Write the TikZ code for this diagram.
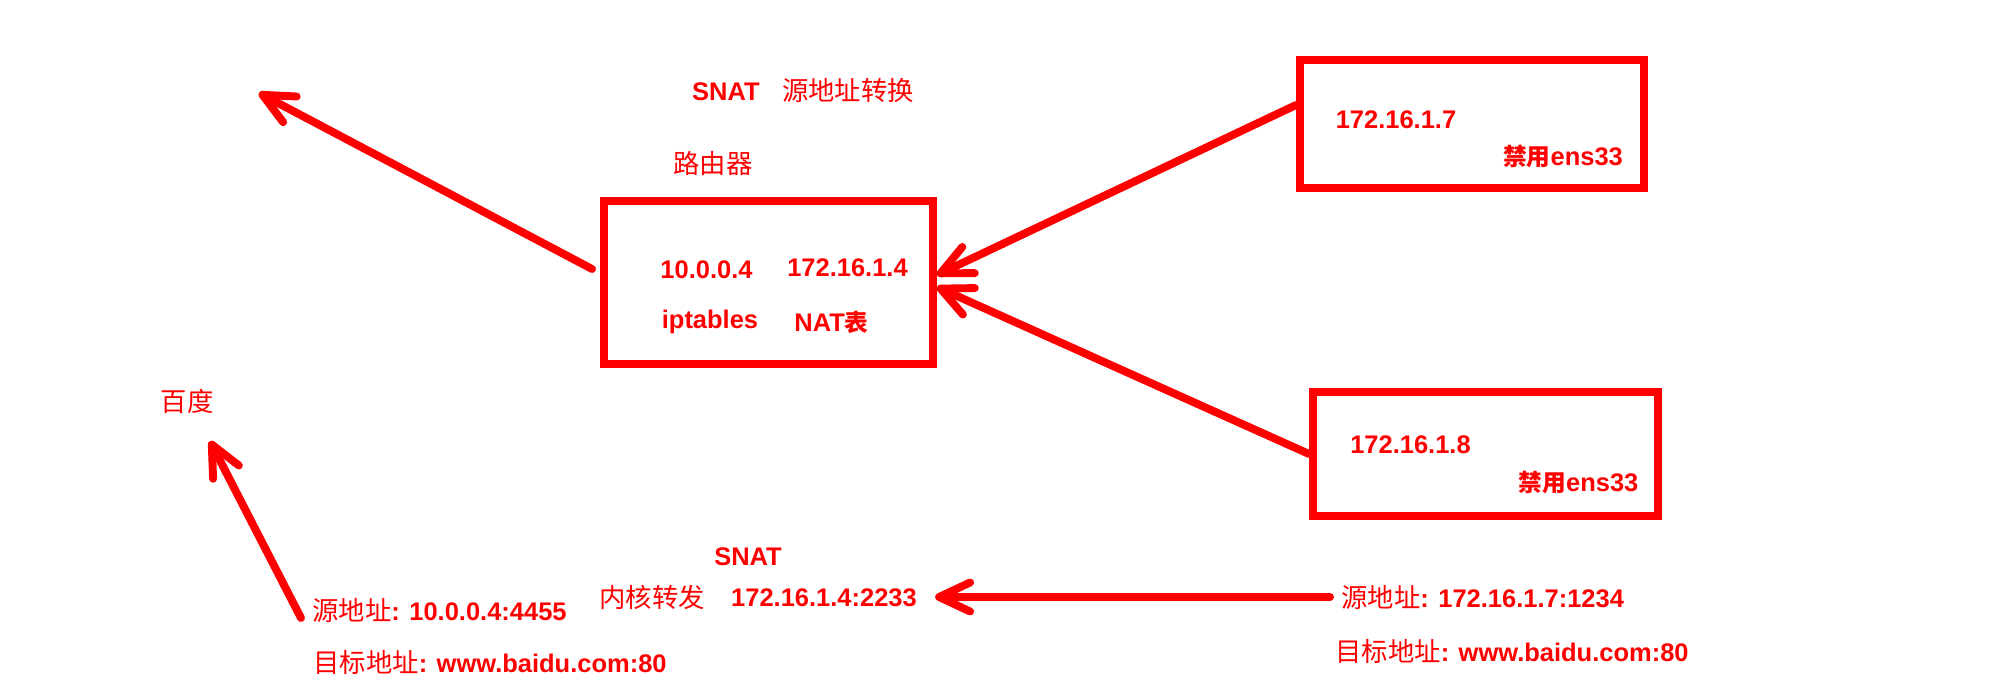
\documentclass[tikz,border=0pt]{standalone}
\usepackage{fontspec}
\setmainfont{Liberation Sans}
\newfontfamily\cjk{Noto Sans CJK SC}
\usetikzlibrary{arrows.meta,calc}

\tikzset{
  box/.style={draw=red,line width=4.5pt,inner sep=0pt},
  en/.style={text=red,inner sep=0pt,font=\bfseries\fontsize{14.5}{17}\selectfont},
  zh/.style={text=red,inner sep=0pt,font=\cjk\fontsize{15}{18}\selectfont},
  flow/.style={draw=red,line width=4.5pt,line cap=round,
    -{Straight Barb[length=0.62cm,width=0.58cm,round]}},
}
\newcommand{\zhm}[1]{{\cjk\mdseries\fontsize{15}{18}\selectfont #1}}
\newcommand{\zhb}[1]{{\cjk\bfseries\fontsize{13.5}{16}\selectfont #1}}

\begin{document}
\begin{tikzpicture}
  \useasboundingbox (0,0) rectangle (40.08,13.64);
  % --- boxes: router and the two hosts ---
  \node[box,minimum width=6.58cm,minimum height=3.26cm] (router) at (15.37,7.99) {};
  \node[box,minimum width=6.88cm,minimum height=2.56cm] (pc7)    at (29.44,11.16) {};
  \node[box,minimum width=6.90cm,minimum height=2.48cm] (pc8)    at (29.71,4.56) {};
  % --- texts round the router ---
  \node[en] (snat)   at (16.06,11.84) {SNAT\hspace{0.45cm}\zhm{源地址转换}};
  \node[zh] (rname)  at (14.26,10.38) {路由器};
  \node[en] (wanip)  at (14.13,8.24)  {10.0.0.4};
  \node[en] (lanip)  at (16.95,8.28)  {172.16.1.4};
  \node[en] (ipt)    at (14.20,7.20)  {iptables};
  \node[en] (nattab) at (16.63,7.20)  {NAT\zhb{表}};
  % --- texts in the hosts ---
  \node[en] (ip7)    at (27.92,11.24) {172.16.1.7};
  \node[en] (off7)   at (31.26,10.50) {\zhb{禁用}ens33};
  \node[en] (ip8)    at (28.21,4.74)  {172.16.1.8};
  \node[en] (off8)   at (31.57,3.98)  {\zhb{禁用}ens33};
  % --- bottom: packet before and after SNAT ---
  \node[zh] (baidu)  at (3.74,5.62)   {百度};
  \node[en,anchor=west] (src1) at (6.24,1.44) {\zhm{源地址}: 10.0.0.4:4455};
  \node[en,anchor=west] (dst1) at (6.26,0.40) {\zhm{目标地址}: www.baidu.com:80};
  \node[zh] (kernel) at (13.04,1.70)  {内核转发};
  \node[en] (snat2)  at (14.96,2.50)  {SNAT};
  \node[en] (port)   at (16.48,1.68)  {172.16.1.4:2233};
  \node[en,anchor=west] (src2) at (26.82,1.70) {\zhm{源地址}: 172.16.1.7:1234};
  \node[en,anchor=west] (dst2) at (26.70,0.62) {\zhm{目标地址}: www.baidu.com:80};
  % --- arrows ---
  \coordinate (net) at (5.18,11.78);
  \draw[flow] ([shift={(-0.16,0.27)}]router.west) -- (net);
  \draw[flow] ([yshift=0.38cm]pc7.west) -- ([yshift=0.15cm]router.east);
  \draw[flow] (pc8.west) -- ([yshift=-0.09cm]router.east);
  \draw[flow] ([shift={(-0.22,-0.16)}]src1.west) -- ([shift={(0.46,-0.55)}]baidu.south);
  \draw[flow] ([xshift=-0.22cm]src2.west) -- ([xshift=0.36cm]src2.west -| port.east);
\end{tikzpicture}
\end{document}
